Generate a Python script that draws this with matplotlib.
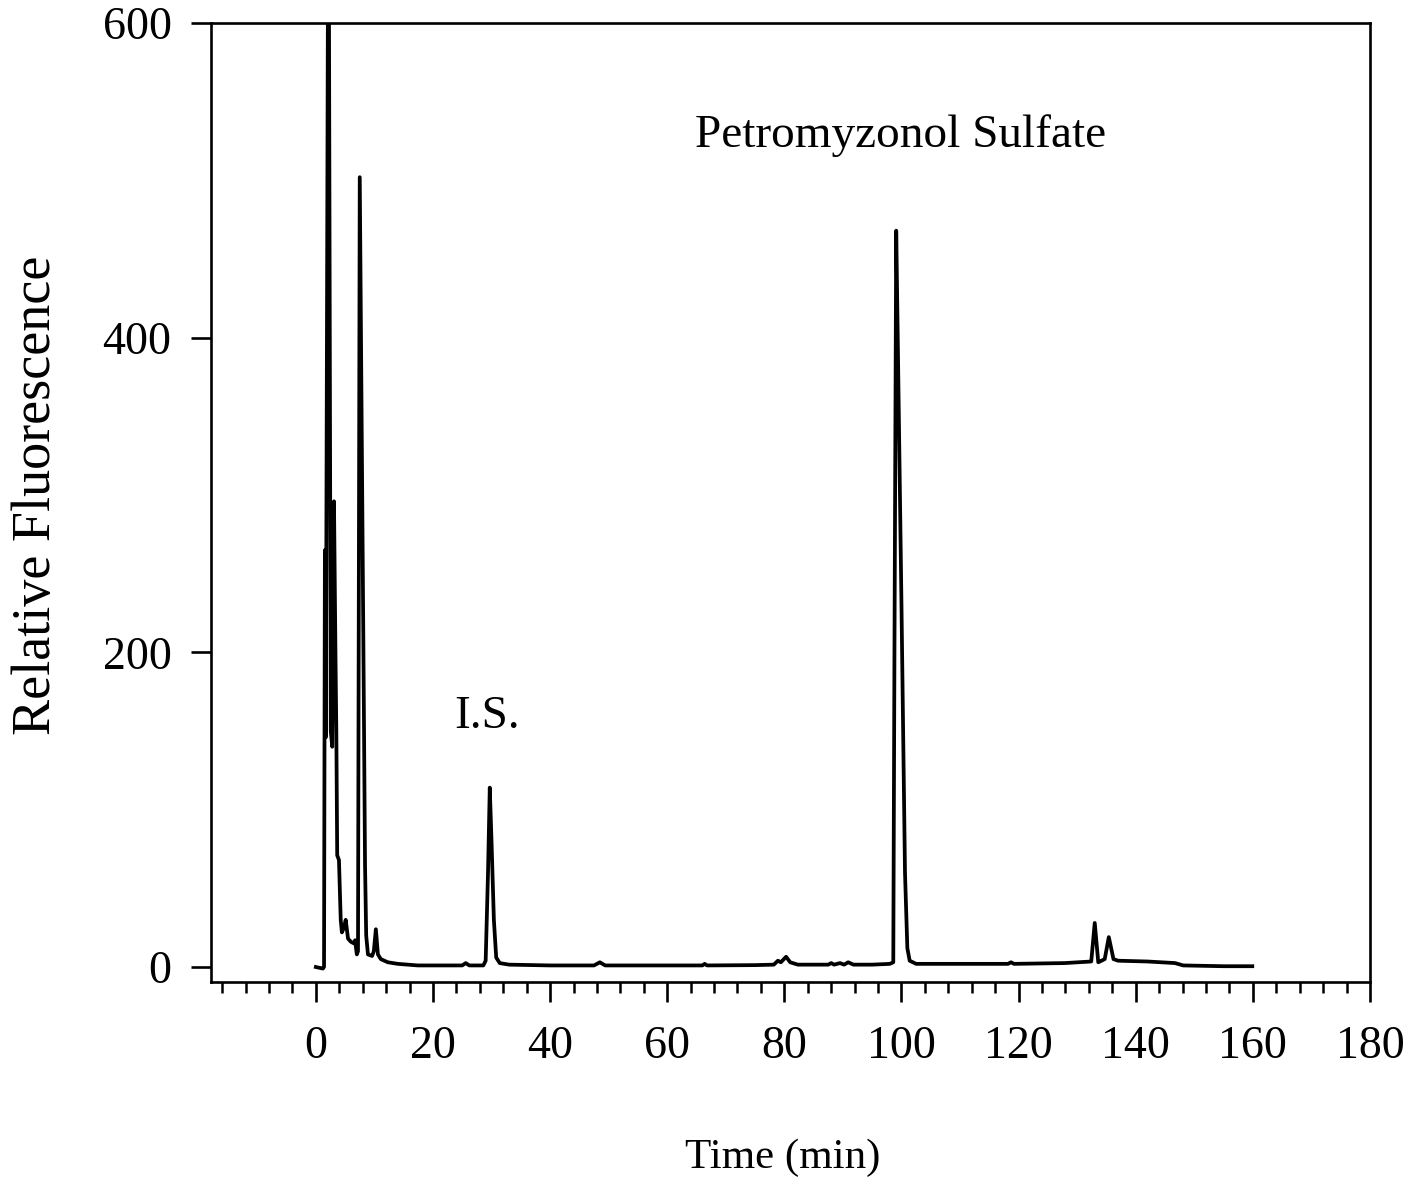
# Cromatograma de fluorescencia relativa vs tiempo con los picos de I.S. y Petromyzonol Sulfate

import matplotlib.pyplot as plt
from matplotlib.ticker import MultipleLocator

# Datos (tiempo en min, fluorescencia relativa)
tiempo = [0.0, 1.2, 1.4, 1.55, 1.7, 2.05, 2.25, 2.55, 2.8, 3.1, 3.35, 3.5, 3.65, 3.95,
          4.25, 4.45, 4.8, 5.1, 5.5, 6.0, 6.5, 6.7, 7.0, 7.2, 7.5, 8.2, 8.4, 8.6, 8.9,
          9.6, 9.9, 10.25, 10.6, 11.1, 12.3, 14.0, 15.7, 17.4, 22.0, 25.0, 25.6, 26.2,
          28.6, 29.0, 29.4, 29.7, 30.0, 30.4, 30.8, 31.4, 33.0, 40.0, 47.5, 48.5, 49.4,
          55.0, 66.0, 66.4, 66.8, 75.0, 78.2, 78.9, 79.4, 80.3, 81.0, 82.3, 87.5, 88.0,
          88.5, 89.5, 90.2, 90.9, 91.8, 95.0, 98.0, 98.6, 98.8, 99.1, 99.4, 100.0, 100.6,
          101.0, 101.4, 102.5, 110.0, 118.2, 118.7, 119.2, 127.9, 132.4, 133.0, 133.6,
          134.7, 135.4, 136.2, 137.0, 142.0, 146.7, 148.1, 155.0, 159.9]
fluorescencia = [0, -1, 0, 265, 146, 600, 600, 150, 140, 296, 200, 150, 71, 68,
                 30, 22, 25, 30, 18, 16, 15, 17, 8, 10, 502, 166, 65, 20, 8,
                 7, 10, 24, 8, 5, 3, 2, 1.5, 1, 1, 1, 2.5, 1,
                 1, 4, 60, 114, 80, 30, 6, 2.5, 1.5, 1, 1, 3, 1,
                 1, 1, 2, 1, 1.2, 1.5, 4, 3, 6.5, 3, 1.5, 1.5, 2.5,
                 1.5, 2.5, 1.5, 3, 1.5, 1.5, 2, 3, 200, 468, 390, 230, 60,
                 12, 4, 2, 2, 2, 3, 2, 2.5, 3.5, 28, 3,
                 5, 19, 5, 4, 3.5, 2.5, 1, 0.5, 0.5]

yticks = [0, 200, 400, 600]
picos = ['I.S.', 'Petromyzonol Sulfate']

plt.rcParams['font.family'] = ['Liberation Serif', 'DejaVu Serif']


def cromatograma(t, f):
    fig = plt.figure(figsize=(14.09, 11.77), dpi=100)
    ax = fig.add_axes([211 / 1409, 1 - 982 / 1177, 1159 / 1409, 959 / 1177])
    ax.plot(t, f, color='black', lw=2.7, solid_joinstyle='round')
    ax.set_xlim(-17.9, 180)
    ax.set_ylim(-9.53, 600)
    for s in ax.spines.values():
        s.set_linewidth(1.9)

    ax.xaxis.set_major_locator(MultipleLocator(20))
    ax.xaxis.set_minor_locator(MultipleLocator(4))
    ax.set_yticks(yticks)
    ax.tick_params(axis='x', which='major', direction='out', length=14.4, width=1.9,
                   labelsize=33, pad=17)
    ax.tick_params(axis='x', which='minor', direction='out', length=8, width=1.8)
    ax.tick_params(axis='y', direction='out', length=14.4, width=1.9, labelsize=33, pad=14)

    ax.set_xlabel('Time (min)', fontsize=31, va='center')
    ax.xaxis.set_label_coords(0.493, -0.183)
    ax.set_ylabel('Relative Fluorescence', fontsize=39, va='center')
    ax.yaxis.set_label_coords(-0.15, 0.508)

    ax.text(29.3, 152, picos[0], fontsize=34, ha='center', va='baseline')
    ax.text(99.8, 521, picos[1], fontsize=34, ha='center', va='baseline')

    fig.savefig('out.png', dpi=100)


cromatograma(tiempo, fluorescencia)
